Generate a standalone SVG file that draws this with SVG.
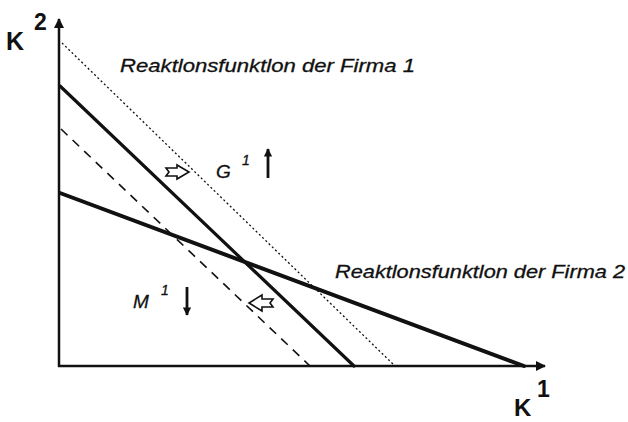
<svg xmlns="http://www.w3.org/2000/svg" width="628" height="422" viewBox="0 0 628 422">
<defs>
<marker id="ah" viewBox="0 0 10 10" refX="9" refY="5" markerWidth="4" markerHeight="4" orient="auto" markerUnits="strokeWidth">
<path d="M0,0 L10,5 L0,10 Z" fill="#111"/>
</marker>
<marker id="ahs" viewBox="0 0 10 10" refX="9" refY="5" markerWidth="3" markerHeight="3.2" orient="auto" markerUnits="strokeWidth">
<path d="M0,0 L10,5 L0,10 Z" fill="#111"/>
</marker>
</defs>
<style>
.ax{stroke:#111;stroke-width:2.5;fill:none}
.thick{stroke:#111;fill:none;stroke-linecap:round}
.lbl{font-family:"Liberation Sans",Arial,sans-serif;font-style:italic;fill:#111;stroke:#111;stroke-width:0.3}
.big{font-family:"Liberation Sans",Arial,sans-serif;font-weight:bold;fill:#111}
.hollow{fill:#fff;stroke:#111;stroke-width:1.6;stroke-linejoin:miter}
</style>
<rect width="628" height="422" fill="#fff"/>
<g id="axes">
<line class="ax" x1="59" y1="367" x2="59" y2="19" marker-end="url(#ah)"/>
<line class="ax" x1="58" y1="366" x2="545" y2="366" marker-end="url(#ah)"/>
</g>
<g id="connectors">
<line id="dotted" x1="62" y1="43" x2="395" y2="366" stroke="#111" stroke-width="1.3" stroke-dasharray="2 2.5"/>
<line id="dashed" x1="61" y1="129" x2="310" y2="366" stroke="#111" stroke-width="1.6" stroke-dasharray="9 7"/>
<line id="rf1" class="thick" x1="60" y1="86" x2="354" y2="366" stroke-width="3.2"/>
<line id="rf2" class="thick" x1="60" y1="193" x2="524" y2="366" stroke-width="4"/>
</g>
<g id="label-k2">
<text class="big" x="6" y="50" font-size="25">K</text>
<text class="big" x="34" y="30" font-size="23">2</text>
</g>
<g id="label-k1">
<text class="big" x="514" y="416" font-size="24">K</text>
<text class="big" x="537" y="397" font-size="23">1</text>
</g>
<g id="label-rf1">
<text class="lbl" x="120" y="72" font-size="18" textLength="295" lengthAdjust="spacingAndGlyphs">Reaktlonsfunktlon der Firma 1</text>
</g>
<g id="label-rf2">
<text class="lbl" x="335" y="278" font-size="18" textLength="290" lengthAdjust="spacingAndGlyphs">Reaktlonsfunktlon der Firma 2</text>
</g>
<g id="label-g1">
<text class="lbl" x="216" y="178" font-size="19">G</text>
<text class="lbl" x="242" y="165" font-size="14">1</text>
<line x1="268" y1="178" x2="268" y2="149" stroke="#111" stroke-width="2.8" marker-end="url(#ahs)"/>
</g>
<g id="label-m1">
<text class="lbl" x="133" y="308" font-size="19">M</text>
<text class="lbl" x="161" y="295" font-size="14">1</text>
<line x1="187" y1="287" x2="187" y2="315" stroke="#111" stroke-width="2.8" marker-end="url(#ahs)"/>
</g>
<g id="shift-right">
<path class="hollow" d="M166,168 L177,168 L177,165 L189,172 L177,179 L177,176 L166,176 L169,172 Z"/>
</g>
<g id="shift-left">
<path class="hollow" d="M273,299 L262,299 L262,295 L249,303 L262,311 L262,307 L273,307 L270,303 Z"/>
</g>
</svg>
